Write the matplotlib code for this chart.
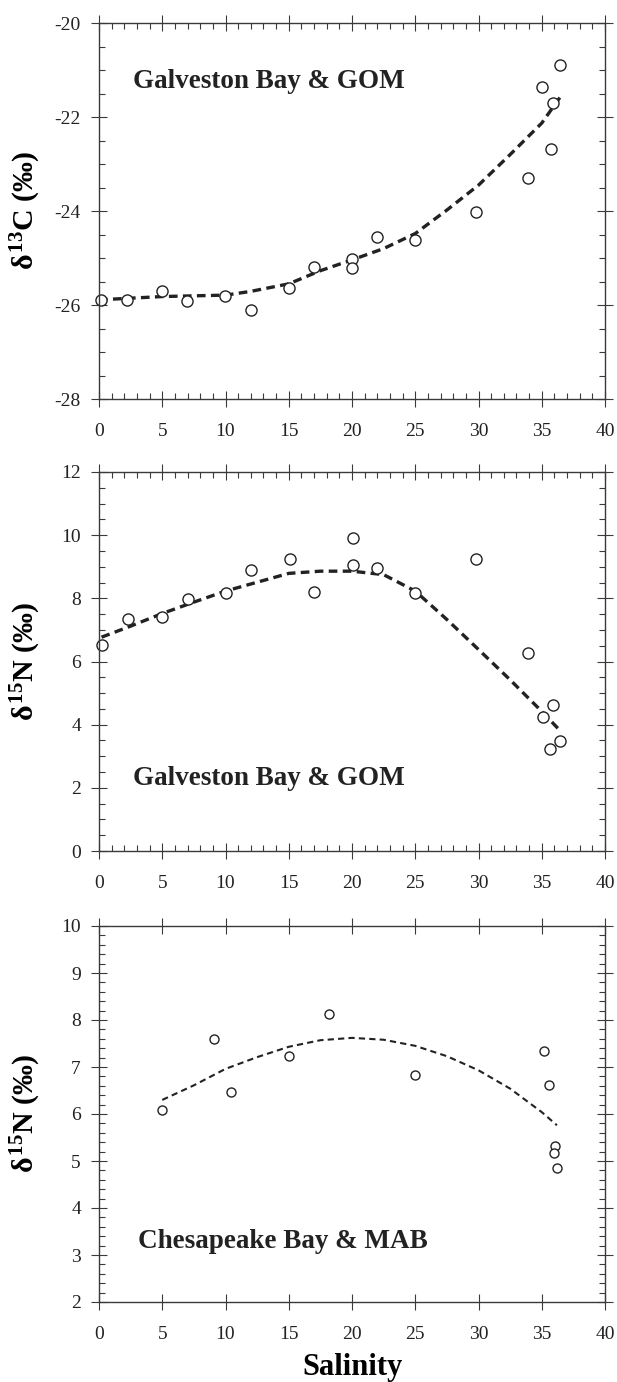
import matplotlib
matplotlib.use("Agg")
import matplotlib.pyplot as plt
from matplotlib.ticker import MultipleLocator

plt.rcParams['font.family'] = ['Liberation Serif', 'DejaVu Serif']
plt.rcParams['axes.unicode_minus'] = False
plt.rcParams['mathtext.fontset'] = 'custom'
plt.rcParams['mathtext.rm'] = 'Liberation Serif:bold'
plt.rcParams['mathtext.it'] = 'Liberation Serif:bold'
plt.rcParams['mathtext.bf'] = 'Liberation Serif:bold'

# ---- Panel 1: d13C, Galveston Bay & GOM ----
c13_sal = [0.16, 2.24, 4.95, 6.98, 9.97, 11.99, 15.02, 17.0, 20.03, 20.03,
           22.0, 25.0, 29.84, 33.95, 35.05, 35.76, 35.92, 36.45]
c13_val = [-25.89, -25.89, -25.71, -25.91, -25.81, -26.10, -25.64, -25.20, -25.02, -25.22,
           -24.55, -24.61, -24.02, -23.30, -21.36, -22.68, -21.71, -20.89]
c13_fit_sal = [0, 5, 10, 12, 15, 17.5, 20, 22.5, 25, 27.5, 30, 32.5, 35, 36.5]
c13_fit_val = [-25.89, -25.82, -25.79, -25.71, -25.55, -25.27, -25.04, -24.80, -24.48,
               -23.98, -23.45, -22.80, -22.13, -21.56]

# ---- Panel 2: d15N, Galveston Bay & GOM ----
n15g_sal = [0.22, 2.33, 5.0, 7.05, 10.04, 12.03, 15.07, 17.03, 20.05, 20.05,
            22.0, 24.99, 29.8, 33.9, 35.06, 35.68, 35.9, 36.42]
n15g_val = [6.53, 7.35, 7.41, 7.99, 8.17, 8.89, 9.23, 8.20, 9.91, 9.04,
            8.97, 8.17, 9.23, 6.27, 4.23, 3.22, 4.61, 3.47]
n15g_fit_sal = [0.2, 2.5, 5, 7.5, 10, 12.5, 15, 17.5, 20, 22.5, 25, 27.5, 30, 32.5, 35, 36.5]
n15g_fit_val = [6.77, 7.12, 7.52, 7.88, 8.23, 8.51, 8.79, 8.86, 8.86, 8.75, 8.23,
                7.33, 6.38, 5.42, 4.42, 3.79]

# ---- Panel 3: d15N, Chesapeake Bay & MAB ----
n15c_sal = [4.98, 9.09, 10.4, 15.0, 18.18, 24.96, 35.14, 35.58, 36.05, 35.98, 36.23]
n15c_val = [6.09, 7.60, 6.47, 7.23, 8.12, 6.82, 7.35, 6.62, 5.31, 5.17, 4.85]
n15c_fit_sal = [5, 7.5, 10, 12.5, 15, 17.5, 20, 22.5, 25, 27.5, 30, 32.5, 35, 36.2]
n15c_fit_val = [6.30, 6.61, 6.96, 7.21, 7.43, 7.57, 7.62, 7.58, 7.45, 7.23, 6.93,
                6.54, 6.04, 5.76]

W, H = 617, 1382
fig = plt.figure(figsize=(W / 100, H / 100), dpi=100)

left = 99 / W
width = (605 - 99) / W

def axes_box(top_px, bot_px):
    return [left, 1 - bot_px / H, width, (bot_px - top_px) / H]

spine_col = '#3a3a3a'

def style_axes(ax, xminor, yminor):
    for s in ax.spines.values():
        s.set_color(spine_col)
        s.set_linewidth(1.0)
    ax.tick_params(which='major', direction='inout', length=12, width=0.8,
                   color=spine_col, top=True, right=True, labelsize=14,
                   labelcolor='#222222')
    ax.tick_params(axis='x', which='major', pad=11)
    ax.tick_params(axis='y', which='major', pad=7)
    ax.tick_params(which='minor', direction='in', length=4, width=0.8,
                   color=spine_col, top=True, right=True)
    ax.xaxis.set_major_locator(MultipleLocator(5))
    if xminor:
        ax.xaxis.set_minor_locator(MultipleLocator(xminor))
    if yminor:
        ax.yaxis.set_minor_locator(MultipleLocator(yminor))

label_kw = dict(fontsize=21.5, fontweight='bold', va='center')
ann_kw = dict(fontsize=19.5, fontweight='bold', va='center', ha='left', color='#222222')

# Panel 1
ax1 = fig.add_axes(axes_box(23, 399))
ax1.plot(c13_fit_sal, c13_fit_val, color='#222222', lw=2.4, dashes=(2.6, 1.6))
ax1.plot(c13_sal, c13_val, 'o', mfc='white', mec='#222222', mew=1.0, ms=8, clip_on=False)
ax1.set_xlim(0, 40)
ax1.set_ylim(-28, -20)
ax1.yaxis.set_major_locator(MultipleLocator(2))
style_axes(ax1, 1, 0.5)
ax1.set_ylabel(r'$\delta^{13}$C (‰)', **label_kw)
ax1.yaxis.set_label_coords((26 - 99) / 506, 0.5)
ax1.text(2.69, -21.25, 'Galveston Bay & GOM', **ann_kw)

# Panel 2
ax2 = fig.add_axes(axes_box(472, 851))
ax2.plot(n15g_fit_sal, n15g_fit_val, color='#222222', lw=2.4, dashes=(2.6, 1.6))
ax2.plot(n15g_sal, n15g_val, 'o', mfc='white', mec='#222222', mew=1.0, ms=8, clip_on=False)
ax2.set_xlim(0, 40)
ax2.set_ylim(0, 12)
ax2.yaxis.set_major_locator(MultipleLocator(2))
style_axes(ax2, 1, 0.5)
ax2.set_ylabel(r'$\delta^{15}$N (‰)', **label_kw)
ax2.yaxis.set_label_coords((26 - 99) / 506, 0.5)
ax2.text(2.69, 2.28, 'Galveston Bay & GOM', **ann_kw)

# Panel 3
ax3 = fig.add_axes(axes_box(926, 1302))
ax3.plot(n15c_fit_sal, n15c_fit_val, color='#222222', lw=1.5, dashes=(3.0, 2.0))
ax3.plot(n15c_sal, n15c_val, 'o', mfc='white', mec='#222222', mew=1.0, ms=6.5, clip_on=False)
ax3.set_xlim(0, 40)
ax3.set_ylim(2, 10)
ax3.yaxis.set_major_locator(MultipleLocator(1))
style_axes(ax3, None, 0.2)
ax3.set_ylabel(r'$\delta^{15}$N (‰)', **label_kw)
ax3.yaxis.set_label_coords((26 - 99) / 506, 0.5)
ax3.set_xlabel('Salinity', fontsize=22, fontweight='bold', va='center')
ax3.xaxis.set_label_coords(0.5, -(1367 - 1302) / 376)
ax3.text(3.05, 3.28, 'Chesapeake Bay & MAB', **ann_kw)

fig.savefig('out.png', dpi=100)
